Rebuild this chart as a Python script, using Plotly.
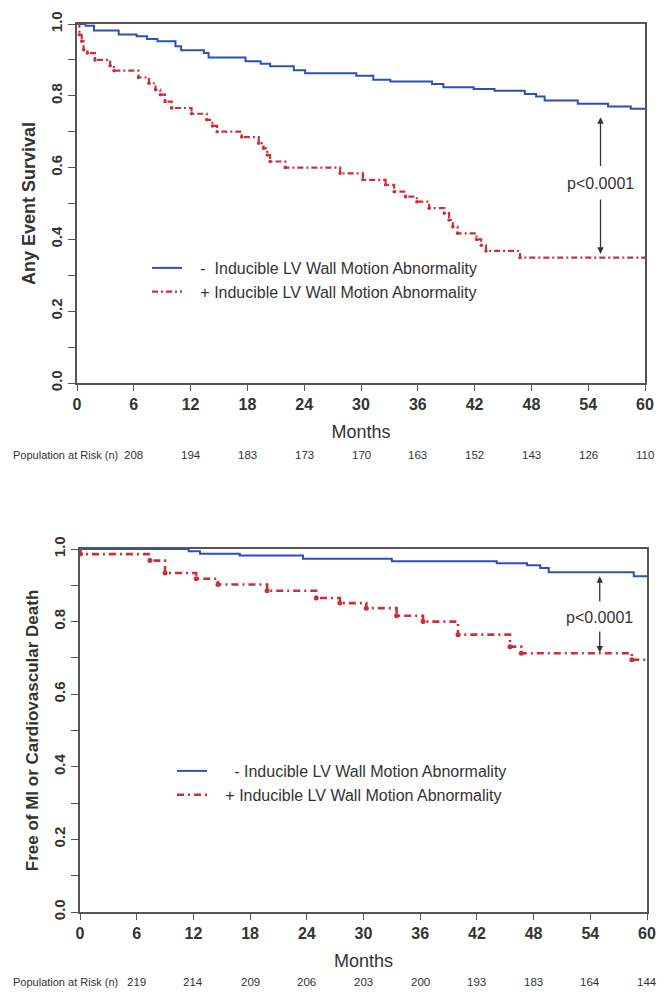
import plotly.graph_objects as go

# ---------------- data ----------------
months_ticks = [0, 6, 12, 18, 24, 30, 36, 42, 48, 54, 60]
risk_months = [6, 12, 18, 24, 30, 36, 42, 48, 54, 60]

# Top panel: Any Event Survival
top_neg_t = [0, 0.9, 1.8, 4.4, 6.3, 7.4, 8.5, 10.4, 11.0, 13.4, 13.9, 17.8, 19.4, 20.4, 22.9,
             24.1, 29.5, 31.3, 33.1, 37.5, 38.7, 41.9, 44.1, 47.3, 48.5, 49.4, 52.9, 56.1, 58.5, 60]
top_neg_s = [1.0, 0.995, 0.982, 0.971, 0.966, 0.958, 0.952, 0.938, 0.927, 0.919, 0.907, 0.896, 0.889,
             0.882, 0.871, 0.863, 0.856, 0.845, 0.840, 0.833, 0.824, 0.819, 0.814, 0.805, 0.798,
             0.787, 0.778, 0.770, 0.764, 0.764]
top_pos_t = [0, 0.25, 0.5, 0.7, 1.1, 1.9, 3.5, 3.9, 6.5, 7.6, 8.3, 8.8, 9.3, 10.0, 12.1, 13.7, 14.3,
             14.8, 17.4, 19.2, 19.7, 20.1, 20.4, 22.0, 27.8, 30.2, 32.6, 33.5, 34.7, 35.9, 37.2, 38.8,
             39.3, 39.7, 40.2, 42.2, 42.7, 43.2, 46.8, 60]
top_pos_s = [1.0, 0.97, 0.952, 0.928, 0.919, 0.90, 0.884, 0.87, 0.851, 0.835, 0.817, 0.803, 0.784,
             0.766, 0.75, 0.733, 0.716, 0.70, 0.685, 0.668, 0.654, 0.635, 0.617, 0.60, 0.584, 0.566,
             0.552, 0.533, 0.519, 0.505, 0.487, 0.473, 0.454, 0.435, 0.417, 0.40, 0.384, 0.368,
             0.349, 0.349]
top_risk = [208, 194, 183, 173, 170, 163, 152, 143, 126, 110]

# Bottom panel: Free of MI or Cardiovascular Death
bot_neg_t = [0, 11.5, 12.7, 16.9, 23.6, 33.0, 44.1, 47.3, 48.7, 49.6, 58.6, 60]
bot_neg_s = [1.0, 0.994, 0.987, 0.982, 0.973, 0.966, 0.961, 0.955, 0.948, 0.936, 0.925, 0.925]
bot_pos_t = [0, 0.05, 7.4, 9.0, 12.3, 14.6, 19.8, 25.0, 27.5, 30.3, 33.5, 36.3, 40.0, 45.5, 46.7, 58.4, 60]
bot_pos_s = [1.0, 0.986, 0.968, 0.934, 0.918, 0.902, 0.885, 0.865, 0.851, 0.837, 0.816, 0.80,
             0.764, 0.731, 0.713, 0.695, 0.695]
bot_risk = [219, 214, 209, 206, 203, 200, 193, 183, 164, 144]

# ---------------- style ----------------
BLUE = "#2b50b8"
RED = "#c8303c"
TXT = "#333333"
AX = "#555555"
SANS = "Liberation Sans, Arial, Helvetica, sans-serif"
NB = "\u00a0"

fig = go.Figure()

fig.add_trace(go.Scatter(x=top_neg_t, y=top_neg_s, mode="lines", line_shape="hv",
                         line=dict(color=BLUE, width=2),
                         name=NB * 3 + "-" + NB * 2 + "Inducible LV Wall Motion Abnormality",
                         xaxis="x", yaxis="y", legend="legend"))
fig.add_trace(go.Scatter(x=top_pos_t, y=top_pos_s, mode="lines", line_shape="hv",
                         line=dict(color=RED, width=2.2, dash="6px,3px,2px,3px"),
                         name=NB * 3 + "+ Inducible LV Wall Motion Abnormality",
                         xaxis="x", yaxis="y", legend="legend"))
fig.add_trace(go.Scatter(x=top_pos_t[1:-1], y=top_pos_s[1:-1], mode="markers",
                         marker=dict(color=RED, size=3.5), showlegend=False, hoverinfo="skip",
                         xaxis="x", yaxis="y"))
fig.add_trace(go.Scatter(x=bot_neg_t, y=bot_neg_s, mode="lines", line_shape="hv",
                         line=dict(color=BLUE, width=2),
                         name=NB * 5 + "- Inducible LV Wall Motion Abnormality",
                         xaxis="x2", yaxis="y2", legend="legend2"))
fig.add_trace(go.Scatter(x=bot_pos_t, y=bot_pos_s, mode="lines", line_shape="hv",
                         line=dict(color=RED, width=2.6, dash="7px,4px,2px,4px"),
                         name=NB * 3 + "+ Inducible LV Wall Motion Abnormality",
                         xaxis="x2", yaxis="y2", legend="legend2"))
fig.add_trace(go.Scatter(x=bot_pos_t[1:-1], y=bot_pos_s[1:-1], mode="markers",
                         marker=dict(color=RED, size=5), showlegend=False, hoverinfo="skip",
                         xaxis="x2", yaxis="y2"))

W, H = 670, 1000
ML, MR, MT, MB = 77, 23, 24, 88
PW = W - ML - MR
PH = H - MT - MB


def py(pix):  # pixel y -> paper y
    return (H - MB - pix) / PH


def px(pix):  # pixel x -> paper x
    return (pix - ML) / PW


xcommon = dict(range=[0, 60], tickvals=months_ticks, ticks="outside", ticklen=6, tickwidth=1.2,
               tickcolor=AX, showline=True, linecolor=AX, linewidth=1.6, mirror=True,
               showgrid=False, zeroline=False, automargin=False,
               tickfont=dict(family=SANS, size=16, color=TXT, weight="bold"),
               title=dict(text="Months", font=dict(family=SANS, size=18, color=TXT), standoff=13))
ycommon = dict(range=[0, 1], tickvals=[0, 0.2, 0.4, 0.6, 0.8, 1.0],
               ticktext=["0.0", "0.2", "0.4", "0.6", "0.8", "1.0"],
               ticks="outside", ticklen=7, tickwidth=1.2, tickcolor=AX,
               minor=dict(dtick=0.1, ticks="outside", ticklen=7, tickwidth=1.2, tickcolor=AX, showgrid=False),
               showline=True, linecolor=AX, linewidth=1.6, mirror=True,
               showgrid=False, zeroline=False, tickangle=-90, automargin=False,
               tickfont=dict(family=SANS, size=15, color=TXT, weight="bold"))

fig.update_layout(
    width=W, height=H, margin=dict(l=ML, r=MR, t=MT, b=MB),
    paper_bgcolor="white", plot_bgcolor="white",
    xaxis=dict(xcommon, domain=[0, px(645)], anchor="y"),
    yaxis=dict(ycommon, domain=[py(383), py(24)], anchor="x",
               title=dict(text="Any Event Survival", standoff=8,
                          font=dict(family=SANS, size=18, color=TXT, weight="bold"))),
    xaxis2=dict(xcommon, domain=[px(80), px(647)], anchor="y2"),
    yaxis2=dict(ycommon, domain=[py(912), py(549)], anchor="x2",
                title=dict(text="Free of MI or Cardiovascular Death", standoff=8,
                           font=dict(family=SANS, size=17, color=TXT, weight="bold"))),
    legend=dict(x=px(147), y=py(251), xanchor="left", yanchor="top", bgcolor="rgba(0,0,0,0)",
                font=dict(family=SANS, size=16, color=TXT), tracegroupgap=0),
    legend2=dict(x=px(172), y=py(754), xanchor="left", yanchor="top", bgcolor="rgba(0,0,0,0)",
                 font=dict(family=SANS, size=16, color=TXT), tracegroupgap=0),
    showlegend=True,
)

ann = []
# p-value arrows and text
for xr, yr, xv, up_tail, up_head, lo_tail, lo_head, ty in [
    ("x", "y", 55.3, 0.60, 0.74, 0.515, 0.36, 0.555),
    ("x2", "y2", 55.0, 0.851, 0.925, 0.777, 0.715, 0.812),
]:
    ann.append(dict(x=xv, y=up_head, ax=xv, ay=up_tail, xref=xr, yref=yr, axref=xr, ayref=yr,
                    text="", showarrow=True, arrowhead=2, arrowsize=1, arrowwidth=1.3, arrowcolor="#333"))
    ann.append(dict(x=xv, y=lo_head, ax=xv, ay=lo_tail, xref=xr, yref=yr, axref=xr, ayref=yr,
                    text="", showarrow=True, arrowhead=2, arrowsize=1, arrowwidth=1.3, arrowcolor="#333"))
    ann.append(dict(x=xv, y=ty, xref=xr, yref=yr, text="p<0.0001", showarrow=False,
                    font=dict(family=SANS, size=16, color=TXT)))

# population at risk rows
for xr, row_y, vals in [("x", py(455), top_risk), ("x2", py(982), bot_risk)]:
    ann.append(dict(x=px(11), y=row_y, xref="paper", yref="paper", xanchor="left", yanchor="middle",
                    text="Population at Risk (n)", showarrow=False,
                    font=dict(family=SANS, size=11, color=TXT)))
    for m, v in zip(risk_months, vals):
        ann.append(dict(x=m, y=row_y, xref=xr, yref="paper", xanchor="center", yanchor="middle",
                        text=str(v), showarrow=False, font=dict(family=SANS, size=11.5, color=TXT)))

fig.update_layout(annotations=ann)
fig.write_html("out.html", config={"displayModeBar": False},
               post_script="document.body.style.margin='0';")
